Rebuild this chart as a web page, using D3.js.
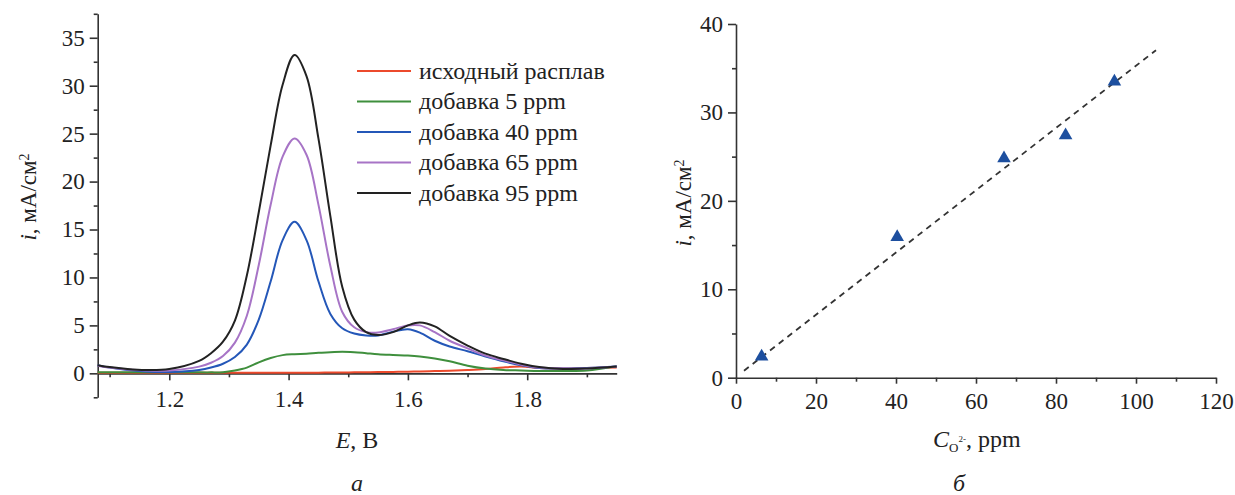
<!DOCTYPE html>
<html>
<head>
<meta charset="utf-8">
<script src="https://cdnjs.cloudflare.com/ajax/libs/d3/7.8.5/d3.min.js"></script>
<style>
  body { margin: 0; background: #fff; }
  svg text { font-family: "Times New Roman", "Liberation Serif", "DejaVu Serif", serif; fill: #222; }
  .axis path, .axis line { stroke: #333; stroke-width: 1.6; }
</style>
</head>
<body>
<div id="chart"></div>
<script>
// left panel: voltammograms, E in V
var potential = [1.08, 1.10, 1.13, 1.16, 1.20, 1.25, 1.27, 1.29, 1.31, 1.33, 1.35, 1.37, 1.39, 1.41, 1.43, 1.45, 1.47, 1.49, 1.51, 1.53, 1.55, 1.575, 1.60, 1.62, 1.645, 1.67, 1.70, 1.73, 1.76, 1.79, 1.82, 1.86, 1.90, 1.95];
var melt0  = [0.05, 0.05, 0.05, 0.05, 0.05, 0.05, 0.05, 0.05, 0.05, 0.05, 0.06, 0.06, 0.06, 0.07, 0.07, 0.07, 0.08, 0.08, 0.1, 0.11, 0.13, 0.15, 0.17, 0.2, 0.24, 0.28, 0.35, 0.45, 0.62, 0.7, 0.55, 0.5, 0.55, 0.6];
var add5   = [0.1, 0.1, 0.1, 0.1, 0.1, 0.1, 0.1, 0.12, 0.3, 0.6, 1.15, 1.6, 1.9, 2.0, 2.05, 2.15, 2.2, 2.25, 2.2, 2.1, 2.0, 1.92, 1.85, 1.75, 1.55, 1.25, 0.8, 0.5, 0.35, 0.3, 0.25, 0.25, 0.3, 0.75];
var add40  = [0.85, 0.6, 0.35, 0.2, 0.15, 0.35, 0.6, 1.0, 1.7, 3.0, 5.6, 9.6, 13.9, 15.8, 13.9, 9.6, 6.2, 4.7, 4.15, 3.95, 3.95, 4.35, 4.6, 4.25, 3.4, 2.8, 2.3, 1.75, 1.25, 0.85, 0.55, 0.5, 0.55, 0.7];
var add65  = [0.8, 0.6, 0.4, 0.3, 0.3, 0.7, 1.1, 1.8, 3.2, 6.0, 11.3, 17.6, 22.6, 24.5, 22.8, 17.6, 11.2, 6.4, 4.8, 4.3, 4.25, 4.6, 5.0, 5.0, 4.3, 3.4, 2.6, 1.85, 1.35, 0.9, 0.6, 0.5, 0.5, 0.7];
var add95  = [0.85, 0.65, 0.45, 0.35, 0.45, 1.3, 2.1, 3.3, 5.5, 10.2, 16.8, 23.8, 30.1, 33.2, 31.0, 24.5, 16.4, 9.0, 5.6, 4.3, 4.0, 4.3, 5.0, 5.3, 4.9, 3.9, 2.9, 2.05, 1.5, 1.0, 0.65, 0.45, 0.5, 0.7];
var seriesNames = ["исходный расплав", "добавка 5 ppm", "добавка 40 ppm", "добавка 65 ppm", "добавка 95 ppm"];
var seriesColors = ["#ec4a2c", "#3f8f3d", "#2457b8", "#a774c6", "#222222"];

// right panel: peak current vs O2- concentration
var conc = [6.4, 40.3, 67, 82.4, 94.6];
var current = [2.4, 15.9, 24.8, 27.4, 33.5];
var fitSlope = 0.352, fitIntercept = 0.08, fitRange = [2, 105];

var width = 1235, height = 495,
    serif = "'Times New Roman', 'Liberation Serif', serif";

var svg = d3.select("#chart").append("svg")
    .attr("width", width)
    .attr("height", height);

function styleAxis(g) {
    g.attr("font-family", serif).attr("font-size", 23);
    g.selectAll("text").attr("fill", "#222");
}

// ---------- panel a ----------
var x1 = d3.scaleLinear().domain([1.08, 1.95]).range([97.7, 616.7]);
var y1 = d3.scaleLinear().domain([-2.5, 37.5]).range([397.3, 13.8]);

svg.append("g").attr("class", "axis")
    .attr("transform", "translate(97.7,0)")
    .call(d3.axisLeft(y1).tickValues([0, 5, 10, 15, 20, 25, 30, 35]).tickSize(8).tickSizeOuter(0).tickPadding(5))
    .call(styleAxis);
svg.append("g").attr("class", "axis")
    .attr("transform", "translate(97.7,0)")
    .call(d3.axisLeft(y1).tickValues([-2.5, 2.5, 7.5, 12.5, 17.5, 22.5, 27.5, 32.5, 37.5]).tickSize(4).tickFormat(""))
    .select(".domain").remove();

svg.append("g").attr("class", "axis")
    .attr("transform", "translate(0," + y1(0) + ")")
    .call(d3.axisBottom(x1).tickValues([1.2, 1.4, 1.6, 1.8]).tickFormat(d3.format(".1f")).tickSize(7).tickSizeOuter(0).tickPadding(10))
    .call(styleAxis);
svg.append("g").attr("class", "axis")
    .attr("transform", "translate(0," + y1(0) + ")")
    .call(d3.axisBottom(x1).tickValues([1.1, 1.3, 1.5, 1.7, 1.9]).tickSize(4).tickFormat(""))
    .select(".domain").remove();

var curves = [melt0, add5, add40, add65, add95];
var line1 = d3.line()
    .x(function (d, i) { return x1(potential[i]); })
    .y(function (d) { return y1(d); })
    .curve(d3.curveCatmullRom.alpha(0.5));

svg.append("g").selectAll("path")
    .data(curves)
    .enter().append("path")
    .attr("d", line1)
    .attr("fill", "none")
    .attr("stroke", function (d, i) { return seriesColors[i]; })
    .attr("stroke-width", 2);

var legend = svg.append("g").selectAll("g")
    .data(seriesNames)
    .enter().append("g")
    .attr("transform", function (d, i) { return "translate(357," + (71 + i * 30.5) + ")"; });
legend.append("line")
    .attr("x1", 0).attr("x2", 54)
    .attr("stroke", function (d, i) { return seriesColors[i]; })
    .attr("stroke-width", 2);
legend.append("text")
    .attr("x", 62).attr("dy", "0.32em")
    .style("font-size", "24px")
    .text(function (d) { return d; });

var yt1 = svg.append("text")
    .attr("transform", "translate(36,197) rotate(-90)")
    .attr("text-anchor", "middle")
    .style("font-size", "23px");
yt1.append("tspan").style("font-style", "italic").text("i");
yt1.append("tspan").text(", мА/см");
yt1.append("tspan").attr("dy", "-0.5em").style("font-size", "14px").text("2");

var xt1 = svg.append("text")
    .attr("x", 357).attr("y", 448)
    .attr("text-anchor", "middle")
    .style("font-size", "24px");
xt1.append("tspan").style("font-style", "italic").text("E");
xt1.append("tspan").text(", В");

svg.append("text")
    .attr("x", 357).attr("y", 491)
    .attr("text-anchor", "middle")
    .style("font-size", "24px").style("font-style", "italic")
    .text("а");

// ---------- panel б ----------
var x2 = d3.scaleLinear().domain([0, 120]).range([736, 1216]);
var y2 = d3.scaleLinear().domain([0, 40]).range([377.7, 24]);

svg.append("g").attr("class", "axis")
    .attr("transform", "translate(736,0)")
    .call(d3.axisLeft(y2).tickValues([0, 10, 20, 30, 40]).tickSize(8).tickSizeOuter(0).tickPadding(5))
    .call(styleAxis);
svg.append("g").attr("class", "axis")
    .attr("transform", "translate(736,0)")
    .call(d3.axisLeft(y2).tickValues([5, 15, 25, 35]).tickSize(4).tickFormat(""))
    .select(".domain").remove();

svg.append("g").attr("class", "axis")
    .attr("transform", "translate(0,377.7)")
    .call(d3.axisBottom(x2).tickValues([0, 20, 40, 60, 80, 100, 120]).tickSize(6).tickSizeOuter(0).tickPadding(9))
    .call(styleAxis);
svg.append("g").attr("class", "axis")
    .attr("transform", "translate(0,377.7)")
    .call(d3.axisBottom(x2).tickValues([10, 30, 50, 70, 90, 110]).tickSize(4).tickFormat(""))
    .select(".domain").remove();

svg.append("path")
    .datum(fitRange)
    .attr("d", d3.line()
        .x(function (d) { return x2(d); })
        .y(function (d) { return y2(fitSlope * d + fitIntercept); }))
    .attr("fill", "none")
    .attr("stroke", "#333")
    .attr("stroke-width", 1.8)
    .attr("stroke-dasharray", "6,5");

svg.append("g").selectAll("path")
    .data(conc)
    .enter().append("path")
    .attr("transform", function (d, i) { return "translate(" + x2(d) + "," + y2(current[i]) + ")"; })
    .attr("d", d3.symbol().type(d3.symbolTriangle).size(80))
    .attr("fill", "#1d4f9f");

var yt2 = svg.append("text")
    .attr("transform", "translate(691,203) rotate(-90)")
    .attr("text-anchor", "middle")
    .style("font-size", "23px");
yt2.append("tspan").style("font-style", "italic").text("i");
yt2.append("tspan").text(", мА/см");
yt2.append("tspan").attr("dy", "-0.5em").style("font-size", "14px").text("2");

var xt2 = svg.append("text")
    .attr("x", 933).attr("y", 447)
    .style("font-size", "24px");
xt2.append("tspan").style("font-style", "italic").text("C");
xt2.append("tspan").attr("dy", "5").style("font-size", "13px").text("O");
xt2.append("tspan").attr("dy", "-10").style("font-size", "9px").text("2-");
xt2.append("tspan").attr("dy", "5").text(", ppm");

svg.append("text")
    .attr("x", 959).attr("y", 491)
    .attr("text-anchor", "middle")
    .style("font-size", "24px").style("font-style", "italic")
    .text("б");
</script>
</body>
</html>
